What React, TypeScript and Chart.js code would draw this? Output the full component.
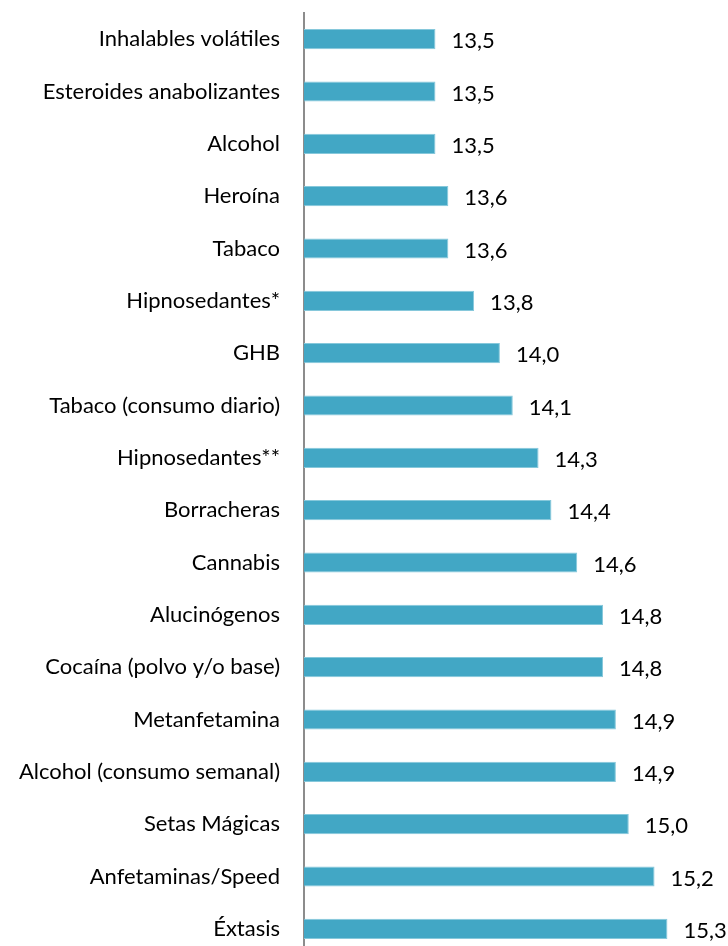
import React, { useEffect, useRef } from "react";
import { Chart, registerables } from "chart.js";

Chart.register(...registerables);

const categories: string[] = [
  "Inhalables volátiles",
  "Esteroides anabolizantes",
  "Alcohol",
  "Heroína",
  "Tabaco",
  "Hipnosedantes*",
  "GHB",
  "Tabaco (consumo diario)",
  "Hipnosedantes**",
  "Borracheras",
  "Cannabis",
  "Alucinógenos",
  "Cocaína (polvo y/o base)",
  "Metanfetamina",
  "Alcohol (consumo semanal)",
  "Setas Mágicas",
  "Anfetaminas/Speed",
  "Éxtasis",
];

const values: number[] = [
  13.5, 13.5, 13.5, 13.6, 13.6, 13.8, 14.0, 14.1, 14.3, 14.4, 14.6, 14.8, 14.8,
  14.9, 14.9, 15.0, 15.2, 15.3,
];

const FONT = "Lato, 'Noto Sans', sans-serif";

const valueLabels = {
  id: "valueLabels",
  afterDatasetsDraw(chart: any) {
    const ctx = chart.ctx;
    const meta = chart.getDatasetMeta(0);
    ctx.save();
    ctx.fillStyle = "#000";
    ctx.font = `22px ${FONT}`;
    ctx.textAlign = "left";
    ctx.textBaseline = "middle";
    meta.data.forEach((el: any, i: number) => {
      const txt = values[i].toFixed(1).replace(".", ",");
      ctx.fillText(txt, el.x + 16, el.y + 2);
    });
    ctx.restore();
  },
};

export default function App() {
  const ref = useRef<HTMLCanvasElement | null>(null);
  useEffect(() => {
    if (!ref.current) return;
    const chart = new Chart(ref.current, {
      type: "bar",
      data: {
        labels: categories,
        datasets: [
          {
            data: values,
            backgroundColor: "#42A7C5",
            borderColor: "#86C8DB",
            borderWidth: 1,
            categoryPercentage: 0.8,
            barPercentage: 0.48,
          },
        ],
      },
      options: {
        indexAxis: "y",
        animation: false,
        responsive: false,
        maintainAspectRatio: false,
        layout: { padding: { top: 13, bottom: 5, left: 0, right: 0 } },
        plugins: {
          legend: { display: false },
          tooltip: { enabled: false },
        },
        scales: {
          x: {
            display: false,
            min: 12.48,
            max: 15.77,
          },
          y: {
            grid: { display: false, drawTicks: false },
            border: { display: true, color: "#8c8c8c", width: 2 },
            ticks: {
              color: "#000",
              padding: 24,
              font: { family: FONT, size: 22 },
            },
            afterFit: (s: any) => {
              s.width = 304;
              s.paddingTop = 0;
              s.paddingBottom = 0;
            },
          },
        },
      },
      plugins: [valueLabels],
    });
    return () => chart.destroy();
  }, []);
  return (
    <div
      style={{
        position: "absolute",
        left: 0,
        top: 0,
        width: 728,
        height: 946,
        overflow: "hidden",
        background: "#fff",
      }}
    >
      <canvas ref={ref} width={728} height={960} style={{ display: "block" }} />
    </div>
  );
}
